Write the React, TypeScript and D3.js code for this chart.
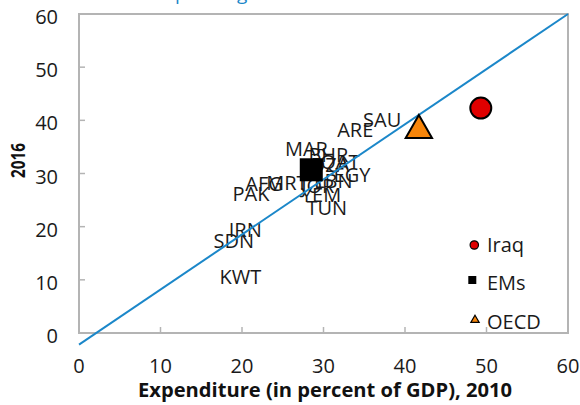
import React from "react";
import * as d3 from "d3";

const countryLabels = ["SAU","ARE","MAR","BHR","QAT","DZA","EGY","LBN","AFG","MRT","JOR","YEM","TUN","PAK","IRN","SDN","KWT"];
const countryX = [37.2,33.9,27.9,30.6,32.0,30.8,33.5,31.2,22.7,25.5,29.3,29.7,30.4,21.1,20.4,19.0,19.8];
const countryY = [40.1,38.2,34.6,33.5,32.2,31.6,29.7,28.6,28.0,28.2,27.6,25.9,23.5,26.1,19.4,17.3,10.5];

const groupNames = ["Iraq","EMs","OECD"];
const groupX = [49.3,28.5,41.7];
const groupY = [42.3,30.7,38.5];

const fitLineX = [0,60];
const fitLineY = [-2.2,60];

const xTicks = [0,10,20,30,40,50,60];
const yTicks = [0,10,20,30,40,50,60];

const xTitle = "Expenditure (in percent of GDP), 2010";
const yTitle = "2016";
const topTitleFragment = "spending";

const W = 580, H = 405;
const L = 79, R = 568, T = 14, B = 333;
const FONT = "'Open Sans', 'Noto Sans', sans-serif";
const GREY = "#b4b4b4";
const BLUE = "#1b87c9";
const RED = "#e00000";
const ORANGE = "#f7850a";

export default function App() {
  const x = d3.scaleLinear().domain([0, 60]).range([L, R]);
  const y = d3.scaleLinear().domain([0, 60]).range([B, T]);
  const line = d3.line<number>().x((d) => x(d)).y((_, i) => y(fitLineY[i]));
  const tri = d3.symbol().type(d3.symbolTriangle);

  return (
    <svg width={W} height={H} style={{ position: "absolute", left: 0, top: 0, background: "#fff" }} fontFamily={FONT}>
      <rect x={0} y={0} width={W} height={H} fill="#fff" />
      <text x={166} y={0} fontSize={19} fill={BLUE}>{topTitleFragment}</text>
      {/* plot border */}
      <rect x={L} y={T} width={R - L} height={B - T} fill="none" stroke={GREY} strokeWidth={2} />
      {/* ticks */}
      {xTicks.slice(1, -1).map((t) => (
        <line key={"xt" + t} x1={x(t)} x2={x(t)} y1={B} y2={B - 6} stroke={GREY} strokeWidth={1.5} />
      ))}
      {yTicks.slice(1, -1).map((t) => (
        <line key={"yt" + t} x1={L} x2={L + 6} y1={y(t)} y2={y(t)} stroke={GREY} strokeWidth={1.5} />
      ))}
      {xTicks.map((t) => (
        <text key={"xl" + t} x={x(t)} y={B + 39.5} fontSize={20} textAnchor="middle" fill="#1a1a1a">{t}</text>
      ))}
      {yTicks.map((t) => (
        <text key={"yl" + t} x={58} y={y(t) + 10} fontSize={20} textAnchor="end" fill="#1a1a1a">{t}</text>
      ))}
      {/* axis titles */}
      <text x={325} y={397} fontSize={20} fontWeight="bold" textAnchor="middle" fill="#111"
        textLength={374} lengthAdjust="spacingAndGlyphs">{xTitle}</text>
      <text transform={`translate(24.5, 160.5) rotate(-90)`} fontSize={20} fontWeight="bold" textAnchor="middle" fill="#111"
        textLength={35} lengthAdjust="spacingAndGlyphs">{yTitle}</text>
      {/* country labels */}
      {countryLabels.map((c, i) => (
        <text key={c} x={x(countryX[i])} y={y(countryY[i]) + 7.1} fontSize={20} textAnchor="middle" fill="#1a1a1a">{c}</text>
      ))}
      {/* fit line */}
      <path d={line(fitLineX) || ""} fill="none" stroke={BLUE} strokeWidth={2} />
      {/* group markers */}
      <circle cx={x(groupX[0])} cy={y(groupY[0])} r={10.5} fill={RED} stroke="#000" strokeWidth={2} />
      <rect x={x(groupX[1]) - 11.5} y={y(groupY[1]) - 11.5} width={23} height={23} fill="#000" />
      <path d={tri.size(300)() || ""} transform={`translate(${x(groupX[2])}, ${y(groupY[2]) + 2})`} fill={ORANGE} stroke="#000" strokeWidth={2} />
      {/* legend */}
      <circle cx={474.3} cy={245} r={4.2} fill={RED} stroke="#000" strokeWidth={1.2} />
      <rect x={468.3} y={276} width={8} height={8} fill="#000" />
      <path d={tri.size(30)() || ""} transform="translate(475, 320)" fill={ORANGE} stroke="#000" strokeWidth={1.2} />
      {groupNames.map((g, i) => (
        <text key={g} x={487} y={[252, 289.5, 328.6][i]} fontSize={20} fill="#1a1a1a">{g}</text>
      ))}
    </svg>
  );
}
